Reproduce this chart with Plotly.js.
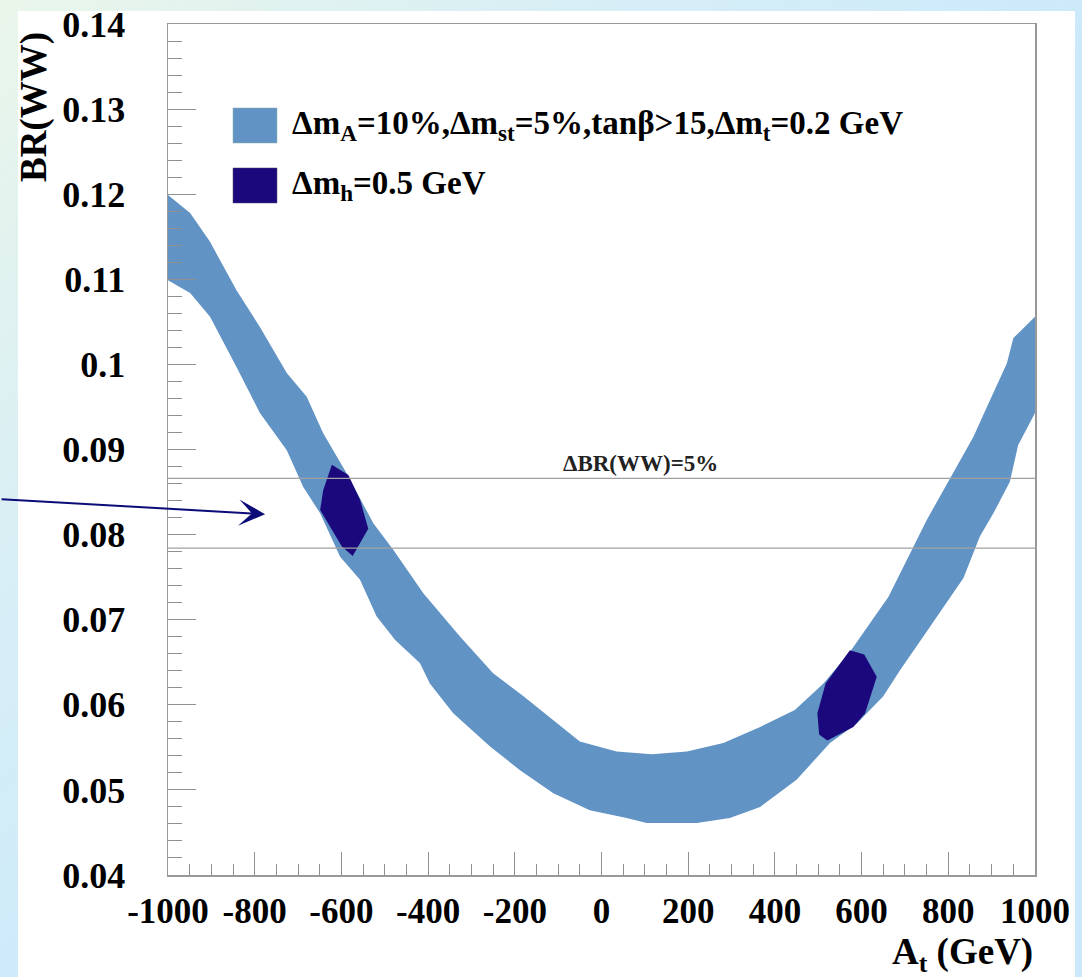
<!DOCTYPE html>
<html>
<head>
<meta charset="utf-8">
<script src="https://cdn.plot.ly/plotly-3.0.1.min.js"></script>
<style>
  html, body { margin: 0; padding: 0; }
  body {
    width: 1082px; height: 977px; overflow: hidden; position: relative;
    background: linear-gradient(135deg, #eaf6ea 0%, #d6eef6 30%, #cce9fb 55%, #cbe9fc 100%);
  }
  #panel { position: absolute; left: 18px; top: 11px; width: 1057px; height: 966px; background: #ffffff; }
  #chart { position: absolute; left: 0; top: 0; width: 1082px; height: 977px; }
</style>
</head>
<body>
<div id="panel"></div>
<div id="chart"></div>
<script>
// ---- data ----
const bandUpperX = [-1000,-949,-903,-842,-788,-726,-680,-642,-588,-526,-480,-411,-326,-250,-180,-111,-50,35,116,197,281,366,446,512,573,662,712,750,804,858,889,935,950,1000];
const bandUpperY = [0.1199,0.1178,0.1144,0.1087,0.1044,0.0990,0.0962,0.0919,0.0872,0.0813,0.0782,0.0731,0.0680,0.0637,0.0610,0.0582,0.0557,0.0545,0.0542,0.0545,0.0555,0.0574,0.0594,0.0625,0.0662,0.0727,0.0778,0.0817,0.0866,0.0915,0.0950,0.1001,0.1031,0.1056];
const bandLowerX = [-1000,-949,-903,-842,-788,-726,-688,-649,-603,-557,-519,-476,-419,-396,-342,-257,-188,-111,-27,58,104,220,296,366,450,527,589,650,689,742,835,873,904,942,961,1000];
const bandLowerY = [0.1099,0.1084,0.1056,0.0997,0.0943,0.0899,0.0856,0.0825,0.0774,0.0747,0.0704,0.0676,0.0649,0.0625,0.0590,0.0551,0.0523,0.0496,0.0476,0.0467,0.0461,0.0461,0.0467,0.0480,0.0512,0.0555,0.0578,0.0610,0.0641,0.0680,0.0749,0.0798,0.0825,0.0862,0.0905,0.0943];

const blobLeftX  = [-622,-584,-557,-538,-574,-599,-649,-642];
const blobLeftY  = [0.0882,0.0870,0.0841,0.0807,0.0775,0.0786,0.0829,0.0852];
const blobRightX = [573,606,635,608,581,521,502,498,517];
const blobRightY = [0.0664,0.0659,0.0633,0.0590,0.0574,0.0558,0.0565,0.0590,0.0625];

const refLines = [0.0866, 0.0784];
const refLabel = "ΔBR(WW)=5%";
const legendLabels = [
  "Δm<sub>A</sub>=10%,Δm<sub>st</sub>=5%,tanβ&gt;15,Δm<sub>t</sub>=0.2 GeV",
  "Δm<sub>h</sub>=0.5 GeV"
];
const xTickVals = [-1000,-800,-600,-400,-200,0,200,400,600,800,1000];
const xTickText = ["-1000","-800","-600","-400","-200","0","200","400","600","800","1000"];
const yTickVals = [0.04,0.05,0.06,0.07,0.08,0.09,0.1,0.11,0.12,0.13,0.14];
const yTickText = ["0.04","0.05","0.06","0.07","0.08","0.09","0.1","0.11","0.12","0.13","0.14"];

const bandColor = "#6194c5";
const blobColor = "#1b087c";
const serif = "'Liberation Serif', 'Times New Roman', serif";

const traces = [
  {
    x: bandUpperX.concat(bandLowerX.slice().reverse()),
    y: bandUpperY.concat(bandLowerY.slice().reverse()),
    type: "scatter", mode: "lines", fill: "toself",
    fillcolor: bandColor, line: {width: 0, color: bandColor},
    hoverinfo: "skip", showlegend: false
  },
  {
    x: blobLeftX, y: blobLeftY, type: "scatter", mode: "lines", fill: "toself",
    fillcolor: blobColor, line: {width: 0, color: blobColor}, hoverinfo: "skip", showlegend: false
  },
  {
    x: blobRightX, y: blobRightY, type: "scatter", mode: "lines", fill: "toself",
    fillcolor: blobColor, line: {width: 0, color: blobColor}, hoverinfo: "skip", showlegend: false
  }
];

const shapes = refLines.map(v => ({
  type: "line", xref: "paper", x0: 0, x1: 1, yref: "y", y0: v, y1: v,
  line: {color: "#a0a0a0", width: 1.2}, layer: "above"
}));
// legend swatches
shapes.push({type: "rect", xref: "paper", yref: "paper", x0: 0.075, x1: 0.1257, y0: 0.8602, y1: 0.9013,
  fillcolor: bandColor, line: {width: 0.5, color: "#8aa"}});
shapes.push({type: "rect", xref: "paper", yref: "paper", x0: 0.075, x1: 0.1257, y0: 0.7897, y1: 0.8308,
  fillcolor: blobColor, line: {width: 0.5, color: "#446"}});

const annotations = [
  {xref: "paper", yref: "paper", x: 0.1407, y: 0.8813, xanchor: "left", yanchor: "middle", showarrow: false,
   text: "<b>" + legendLabels[0] + "</b>", font: {family: serif, size: 33, color: "#000"}},
  {xref: "paper", yref: "paper", x: 0.1407, y: 0.8108, xanchor: "left", yanchor: "middle", showarrow: false,
   text: "<b>" + legendLabels[1] + "</b>", font: {family: serif, size: 33, color: "#000"}},
  {xref: "x", yref: "y", x: 89, y: 0.0884, showarrow: false,
   text: "<b>" + refLabel + "</b>", font: {family: serif, size: 23, color: "#222"}},
  {xref: "paper", yref: "paper", x: -0.1546, y: 0.993, xanchor: "center", yanchor: "top", textangle: -90,
   showarrow: false, text: "<b>BR(WW)</b>", font: {family: serif, size: 37, color: "#000"}},
  {xref: "paper", yref: "paper", x: 1, y: -0.094, xanchor: "right", yanchor: "middle",
   showarrow: false, text: "<b>A<sub>t</sub> (GeV)</b>", font: {family: serif, size: 37, color: "#000"}},
  {xref: "x", yref: "y", x: -776, y: 0.0824, text: "", showarrow: true,
   axref: "pixel", ayref: "pixel", ax: -265, ay: -15,
   arrowhead: 3, arrowsize: 2.2, arrowwidth: 2, arrowcolor: "#0c0c78"}
];

const layout = {
  width: 1082, height: 977,
  margin: {l: 168, r: 47, t: 24, b: 102},
  paper_bgcolor: "rgba(0,0,0,0)", plot_bgcolor: "#ffffff",
  showlegend: false,
  xaxis: {
    range: [-1000, 1000], tickmode: "array", tickvals: xTickVals, ticktext: xTickText,
    ticks: "inside", ticklen: 23, tickcolor: "#909090", tickwidth: 1,
    minor: {dtick: 50, tick0: 0, ticks: "inside", ticklen: 11, tickcolor: "#909090", tickwidth: 1, showgrid: false},
    showgrid: false, zeroline: false, showline: true, linecolor: "#999999", linewidth: 1.5, mirror: true,
    tickfont: {family: serif, size: 35, color: "#000", weight: "bold"},
    ticklabelstandoff: 4, automargin: false
  },
  yaxis: {
    range: [0.04, 0.14], tickmode: "array", tickvals: yTickVals, ticktext: yTickText,
    ticks: "inside", ticklen: 28, tickcolor: "#909090", tickwidth: 1,
    minor: {dtick: 0.002, tick0: 0.04, ticks: "inside", ticklen: 14, tickcolor: "#909090", tickwidth: 1, showgrid: false},
    showgrid: false, zeroline: false, showline: true, linecolor: "#999999", linewidth: 1.5, mirror: true,
    tickfont: {family: serif, size: 36, color: "#000", weight: "bold"},
    ticklabelstandoff: 34, automargin: false
  },
  shapes: shapes,
  annotations: annotations
};

Plotly.newPlot("chart", traces, layout, {displayModeBar: false, staticPlot: true});
</script>
</body>
</html>
